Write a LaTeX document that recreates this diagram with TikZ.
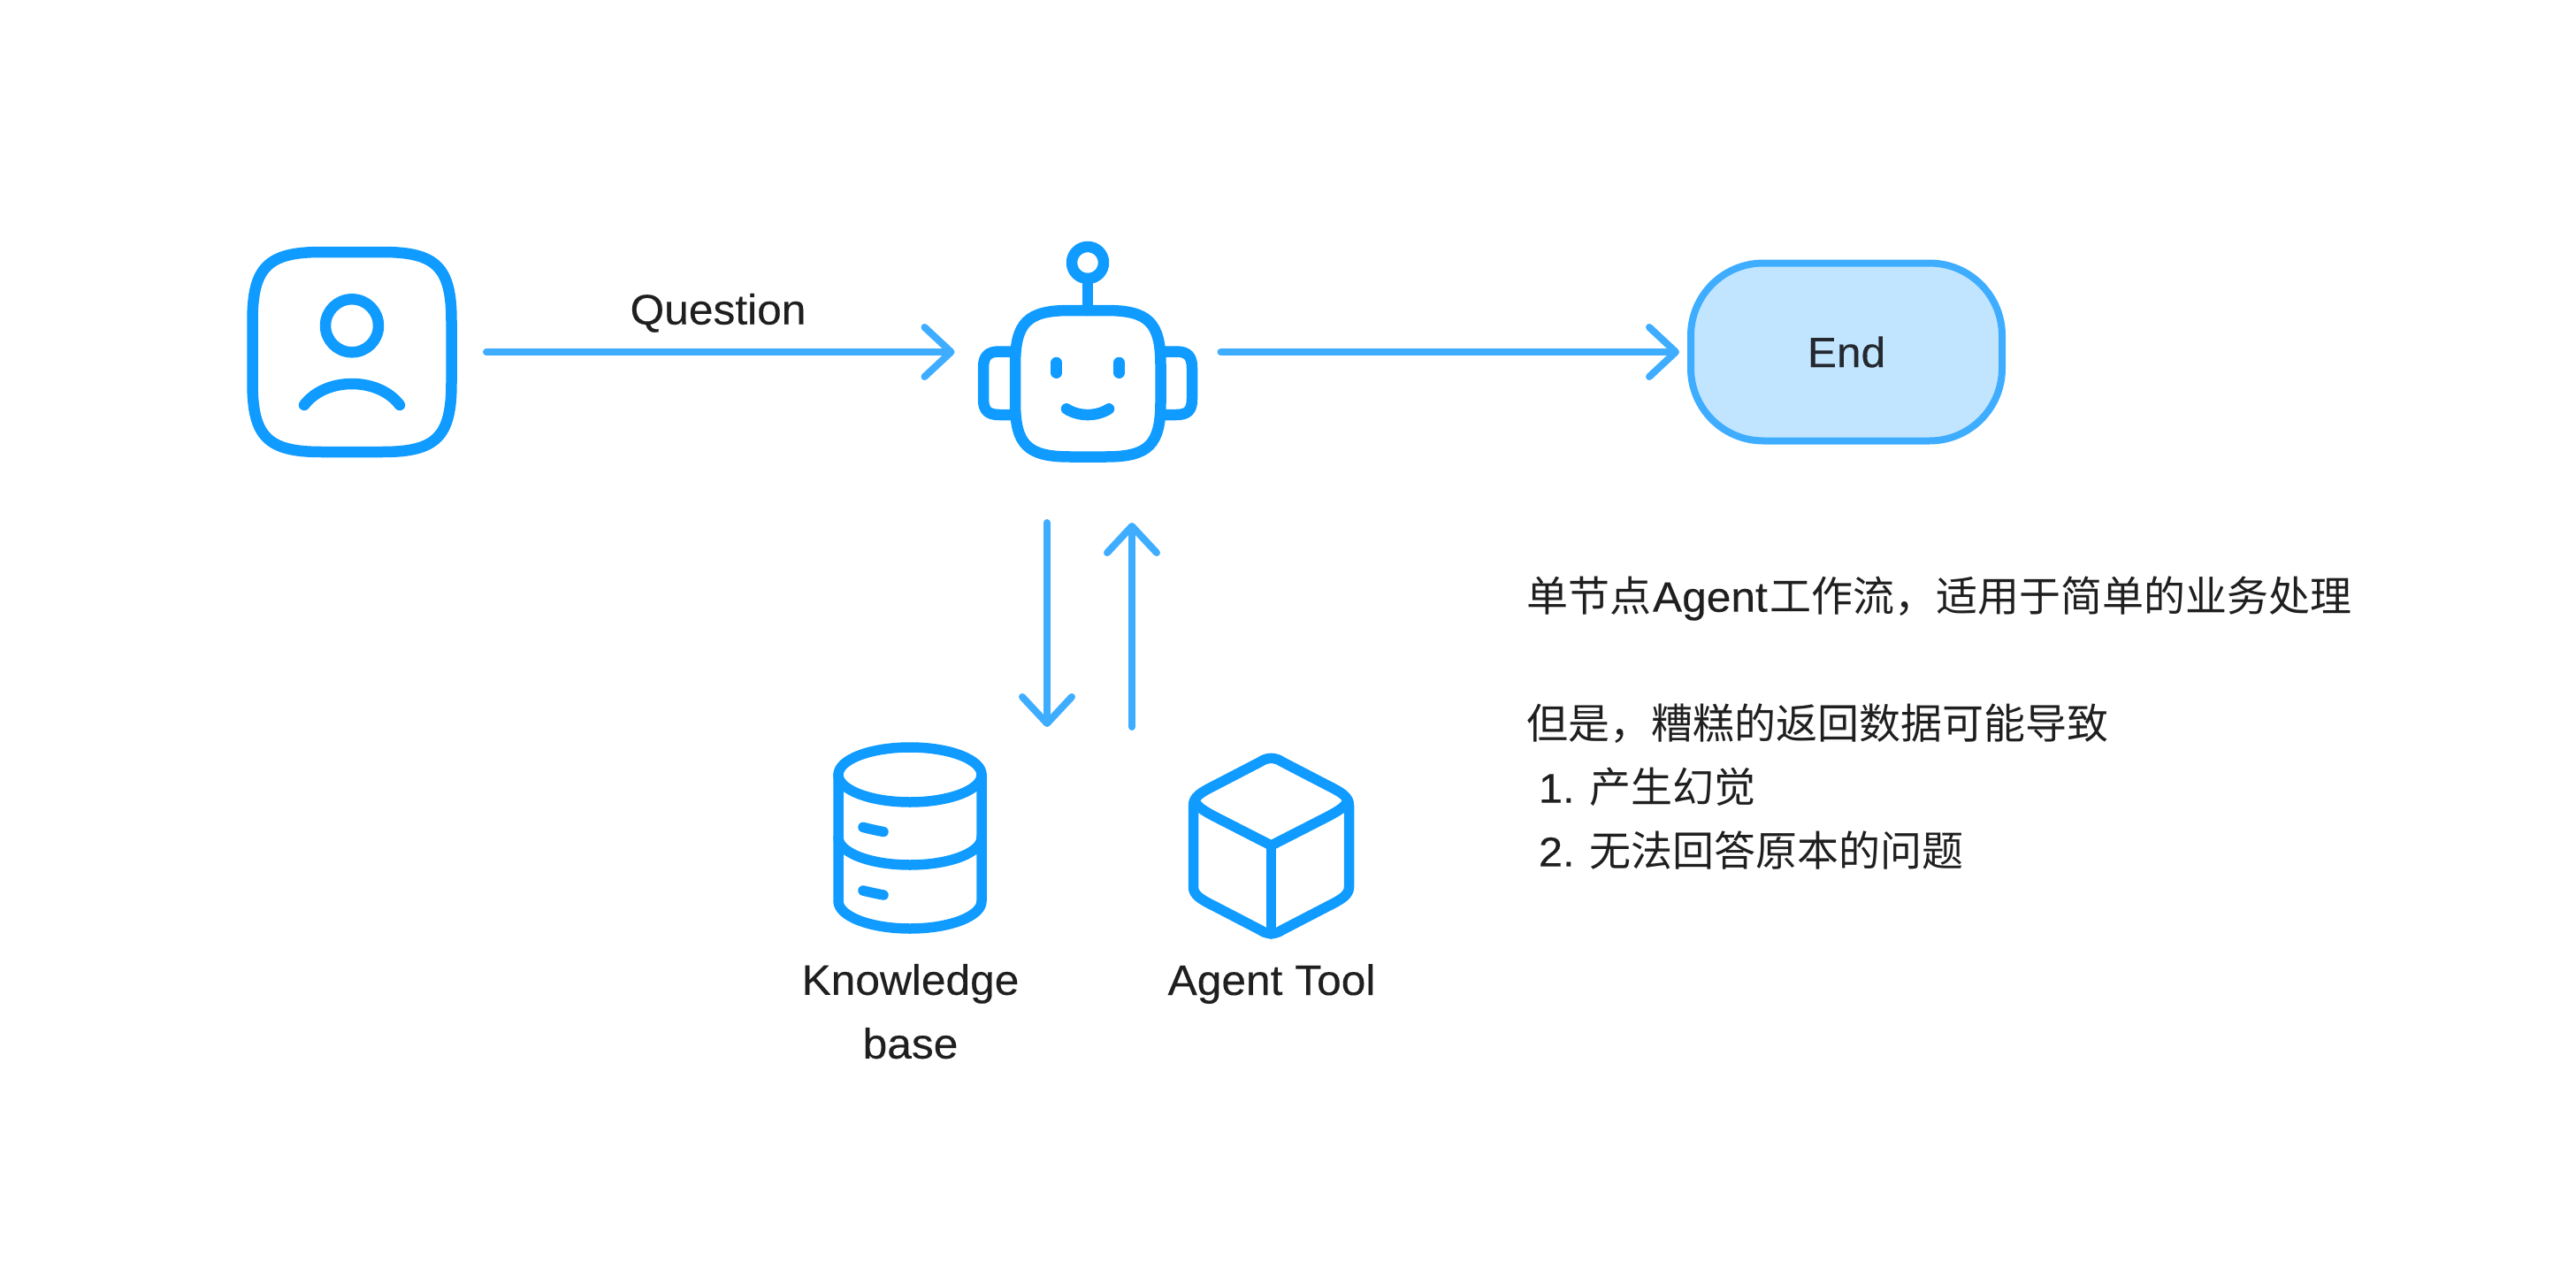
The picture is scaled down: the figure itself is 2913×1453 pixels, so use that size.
\documentclass[tikz,border=0pt]{standalone}
\usepackage{fontspec}
\setmainfont{Liberation Sans}[FakeStretch=1.035,RawFeature={embolden=0.25}]
\newfontfamily\cjk{Noto Sans CJK SC}
\usetikzlibrary{arrows.meta}
\definecolor{iconblue}{HTML}{0F9BFF}
\definecolor{flowblue}{HTML}{3FADFF}
\definecolor{endfill}{HTML}{C1E4FF}
\definecolor{inkdark}{HTML}{1F1F1F}
\definecolor{endink}{HTML}{24292F}
\newcommand{\sqpath}[5]{(#1,#2+#5) .. controls (#1,#2+0.22*#5) and (#1+0.22*#5,#2) .. (#1+#5,#2) -- (#3-#5,#2) .. controls (#3-0.22*#5,#2) and (#3,#2+0.22*#5) .. (#3,#2+#5) -- (#3,#4-#5) .. controls (#3,#4-0.22*#5) and (#3-0.22*#5,#4) .. (#3-#5,#4) -- (#1+#5,#4) .. controls (#1+0.22*#5,#4) and (#1,#4-0.22*#5) .. (#1,#4-#5) -- cycle}
\tikzset{
  x=1pt,y=-1pt,
  iconline/.style={draw=iconblue,line width=12.5pt,line cap=round,line join=round},
  iconthin/.style={draw=iconblue,line width=11.5pt,line cap=round,line join=round},
  flow/.style={draw=flowblue,line width=8pt,line cap=round,-{Straight Barb[length=30pt,width=56pt,line width=8pt,round]}},
  holder/.style={inner sep=0pt,outer sep=0pt,draw=none},
  label/.style={inner sep=0pt,outer sep=0pt,text=inkdark,font=\fontsize{48}{72}\selectfont},
  endbox/.style={draw=flowblue,fill=endfill,line width=8pt,rounded corners=82pt,minimum width=352pt,minimum height=201pt,inner sep=0pt,outer sep=13pt,text=endink,font=\fontsize{48}{72}\selectfont},
}
\begin{document}
\begin{tikzpicture}
\useasboundingbox (0,0) rectangle (2913,1453);
% nodes
\node[holder,minimum width=304pt,minimum height=240pt] (user) at (398,398) {};
\node[holder,minimum width=301pt,minimum height=386pt] (robot) at (1230,398) {};
\node[endbox] (end) at (2088,398) {End};
\node[holder,minimum width=180pt,minimum height=250pt] (kb) at (1029,947) {};
\node[holder,minimum width=190pt,minimum height=268pt] (tool) at (1437.5,956) {};
% user icon
\draw[iconline] \sqpath{285.5}{285}{510.5}{511}{78};
\draw[iconline] (398,368.3) circle[radius=30];
\draw[iconline] (344,458) .. controls (368,426) and (428,426) .. (452,458);
% robot icon
\draw[iconline] \sqpath{1148}{351}{1312.5}{516.5}{62};
\draw[iconline] (1230,297) circle[radius=18];
\draw[iconline] (1230,315) -- (1230,351);
\draw[iconline] (1148,397.5) -- (1130,397.5) .. controls (1117,397.5) and (1112,403) .. (1112,416) -- (1112,451) .. controls (1112,464) and (1117,469) .. (1130,469) -- (1148,469);
\draw[iconline] (1312.5,397.5) -- (1330,397.5) .. controls (1343,397.5) and (1348,403) .. (1348,416) -- (1348,451) .. controls (1348,464) and (1343,469) .. (1330,469) -- (1312.5,469);
\draw[iconline] (1194.7,410) -- (1194.7,421.7);
\draw[iconline] (1265.5,410) -- (1265.5,421.7);
\draw[iconline] (1206,462.3) .. controls (1220,471.3) and (1240,471.3) .. (1254,462.3);
% database icon
\draw[iconthin] (1029,876) ellipse[x radius=81,y radius=31];
\draw[iconthin] (948,876) -- (948,1019) .. controls (948,1036) and (984,1050) .. (1029,1050) .. controls (1074,1050) and (1110,1036) .. (1110,1019) -- (1110,876);
\draw[iconthin] (948,947) .. controls (948,964) and (984,978) .. (1029,978) .. controls (1074,978) and (1110,964) .. (1110,947);
\draw[iconthin] (976,935.4) .. controls (984,937.5) and (991,939) .. (999,940.5);
\draw[iconthin] (976,1007) .. controls (984,1009) and (991,1010.5) .. (999,1012);
% cube icon
\draw[iconthin] (1349.5,911) .. controls (1349.5,901) and (1358,896) .. (1373,888.5) -- (1425,861.5) .. controls (1433,856) and (1442,856) .. (1450,861.5) -- (1502,888.5) .. controls (1517,896) and (1525.5,901) .. (1525.5,911) -- (1525.5,1003) .. controls (1525.5,1012) and (1517,1017) .. (1502,1024.5) -- (1450,1051.5) .. controls (1442,1057) and (1433,1057) .. (1425,1051.5) -- (1373,1024.5) .. controls (1358,1017) and (1349.5,1012) .. (1349.5,1003) -- cycle;
\draw[iconthin] (1351,905) .. controls (1353,912) and (1362,917) .. (1372,922.5) -- (1437.5,956) -- (1503,922.5) .. controls (1513,917) and (1522,912) .. (1524,905);
\draw[iconthin] (1437.5,956) -- (1437.5,1056);
% labels
\node[label,anchor=base] (qlabel) at (812,366.7) {Question};
\node[label,anchor=north,align=center] (kblabel) at (1029.5,1090) {Knowledge\\base};
\node[label,anchor=base] (toollabel) at (1438,1125) {Agent Tool};
\node[label,anchor=north west,align=left,font=\fontsize{47}{72}\selectfont] (note) at (1726,652) {{\cjk 单节点}\hspace{2pt}{\fontsize{48}{72}\selectfont Agent}\hspace{3pt}{\cjk 工作流，适用于简单的业务处理}\\[72pt]{\cjk 但是，糟糕的返回数据可能导致}\\\hspace*{14pt}\makebox[57pt][l]{1.}{\cjk 产生幻觉}\\\hspace*{14pt}\makebox[57pt][l]{2.}{\cjk 无法回答原本的问题}};
% connectors
\draw[flow] (user.east) -- (robot.west);
\draw[flow] (robot.east) -- (end.west);
\draw[flow] ([xshift=-46pt]robot.south) -- ([xshift=155pt]kb.north);
\draw[flow] ([xshift=-157.5pt]tool.north) -- ([xshift=50pt]robot.south);
\end{tikzpicture}
\end{document}
